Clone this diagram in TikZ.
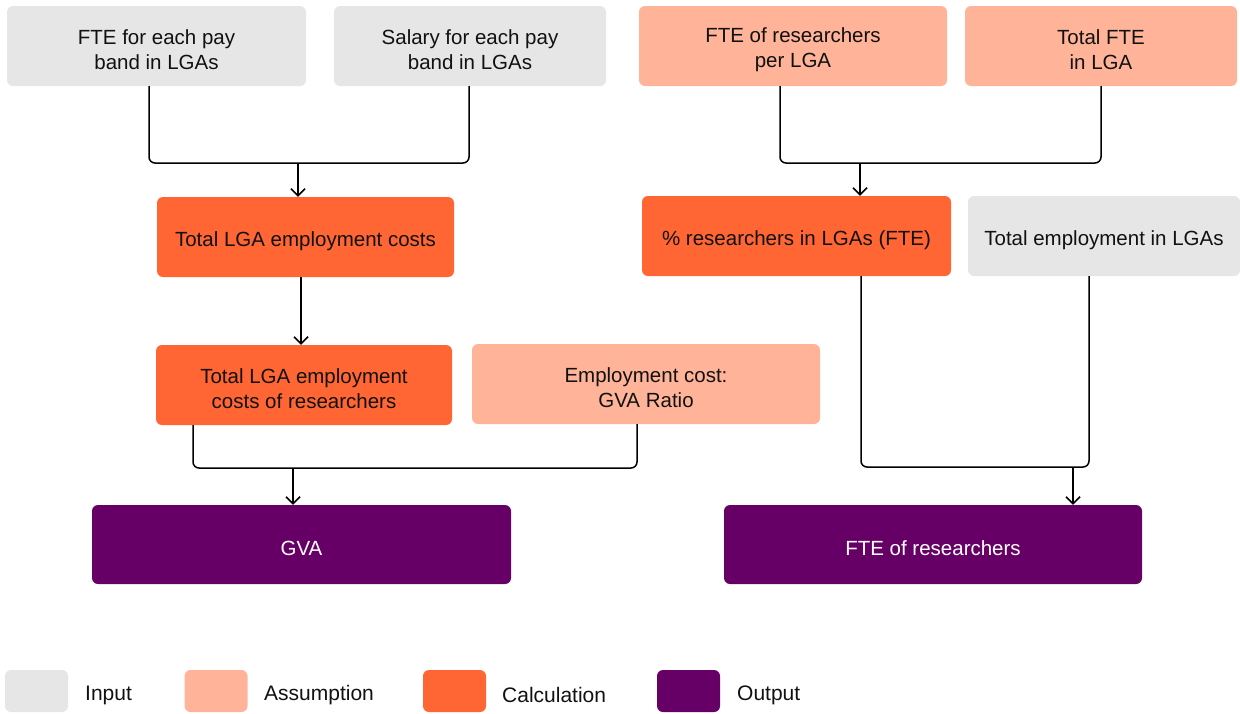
\documentclass[tikz,border=0pt]{standalone}
\usepackage{fontspec}
\setmainfont{Liberation Sans}
\usetikzlibrary{arrows.meta}
\definecolor{inputgrey}{HTML}{E6E6E6}
\definecolor{assumpeach}{HTML}{FFB499}
\definecolor{calcorange}{HTML}{FF6633}
\definecolor{outpurple}{HTML}{660066}
\definecolor{inktext}{HTML}{111111}
\begin{document}
\begin{tikzpicture}[x=1pt,y=-1pt,
  box/.style={rounded corners=6pt, inner sep=0pt, minimum height=80pt},
  inbox/.style={box, fill=inputgrey},
  asbox/.style={box, fill=assumpeach},
  calcbox/.style={box, fill=calcorange},
  outbox/.style={box, fill=outpurple, minimum height=79pt},
  boxtext/.style={inner sep=0pt, align=center, text=inktext,
    font=\fontsize{20.5}{25}\selectfont},
  outtext/.style={boxtext, text=white},
  link/.style={draw=black, line width=1.5pt, rounded corners=6pt},
  feed/.style={draw=black, line width=1.5pt, -{Straight Barb[length=7pt,width=14pt,line width=1.5pt]}},
  legkey/.style={rounded corners=6pt, minimum width=63pt, minimum height=42pt, inner sep=0pt},
  legtext/.style={anchor=west, inner sep=0pt, text=inktext, font=\fontsize{21}{25}\selectfont}]
\useasboundingbox (0,0) rectangle (1240,713);

% top row
\node[inbox, minimum width=299pt] (fte) at (156.5,46) {};
\node[inbox, minimum width=272pt] (sal) at (470,46) {};
\node[asbox, minimum width=308pt] (fteres) at (793,46) {};
\node[asbox, minimum width=272pt] (totfte) at (1101,46) {};

% second row
\node[calcbox, minimum width=297pt] (empcost) at (305.5,237) {};
\node[calcbox, minimum width=309pt] (pctres) at (796.5,236) {};
\node[inbox, minimum width=272pt] (totemp) at (1104,236) {};

% third row
\node[calcbox, minimum width=296pt] (rescost) at (304,385) {};
\node[asbox, minimum width=348pt] (ratio) at (646,384) {};

% outputs
\node[outbox, minimum width=419pt] (gva) at (301.5,544.5) {};
\node[outbox, minimum width=418pt] (fteout) at (933,544.5) {};

% box captions, set slightly below each box centre
\node[boxtext] (fteT) at ([yshift=-4pt]fte.center) {FTE for each pay\\band in LGAs};
\node[boxtext] (salT) at ([yshift=-4pt]sal.center) {Salary for each pay\\band in LGAs};
\node[boxtext] (fteresT) at ([yshift=-4pt]fteres.center) {FTE of researchers\\per LGA};
\node[boxtext] (totfteT) at ([yshift=-4pt]totfte.center) {Total FTE\\in LGA};
\node[boxtext] (empcostT) at ([yshift=-4pt]empcost.center) {Total LGA employment costs};
\node[boxtext] (pctresT) at ([yshift=-4pt]pctres.center) {\% researchers in LGAs (FTE)};
\node[boxtext] (totempT) at ([yshift=-4pt]totemp.center) {Total employment in LGAs};
\node[boxtext] (rescostT) at ([yshift=-4pt]rescost.center) {Total LGA employment\\costs of researchers};
\node[boxtext] (ratioT) at ([yshift=-4pt]ratio.center) {Employment cost:\\GVA Ratio};
\node[outtext] (gvaT) at ([yshift=-4pt]gva.center) {GVA};
\node[outtext] (fteoutT) at ([yshift=-4pt]fteout.center) {FTE of researchers};

% junction points and drop positions
\coordinate (jA) at (298,163);
\coordinate (jB) at (860,163);
\coordinate (jC) at (293,468);
\coordinate (jD) at (1073,467);
\coordinate (xA1) at (149,0);
\coordinate (xA2) at (469,0);
\coordinate (xB1) at (780,0);
\coordinate (xB2) at (1101,0);
\coordinate (xE) at (301,0);
\coordinate (xC1) at (193,0);
\coordinate (xC2) at (637,0);
\coordinate (xD1) at (861,0);
\coordinate (xD2) at (1089,0);

% FTE and salary combine into employment costs
\draw[link] (fte.south -| xA1) |- (jA) -| (sal.south -| xA2);
\draw[feed] (jA) -- (empcost.north -| jA);
\draw[feed] (empcost.south -| xE) -- (rescost.north -| xE);

% researcher FTE and total FTE combine into share
\draw[link] (fteres.south -| xB1) |- (jB) -| (totfte.south -| xB2);
\draw[feed] (jB) -- (pctres.north -| jB);

% researcher costs and ratio give GVA
\draw[link] (rescost.south -| xC1) |- (jC) -| (ratio.south -| xC2);
\draw[feed] (jC) -- (gva.north -| jC);

% share and total employment give FTE of researchers
\draw[link] (pctres.south -| xD1) |- (jD) -| (totemp.south -| xD2);
\draw[feed] (jD) -- (fteout.north -| jD);

% legend
\node[legkey, fill=inputgrey] (kin) at (36.5,691) {};
\node[legtext] (tin) at (85,695) {Input};
\node[legkey, fill=assumpeach] (kas) at (216,691) {};
\node[legtext] (tas) at (264,695) {Assumption};
\node[legkey, fill=calcorange] (kca) at (454.5,691) {};
\node[legtext] (tca) at (502,695) {Calculation};
\node[legkey, fill=outpurple] (kou) at (688.5,691) {};
\node[legtext] (tou) at (737,695) {Output};
\end{tikzpicture}
\end{document}
